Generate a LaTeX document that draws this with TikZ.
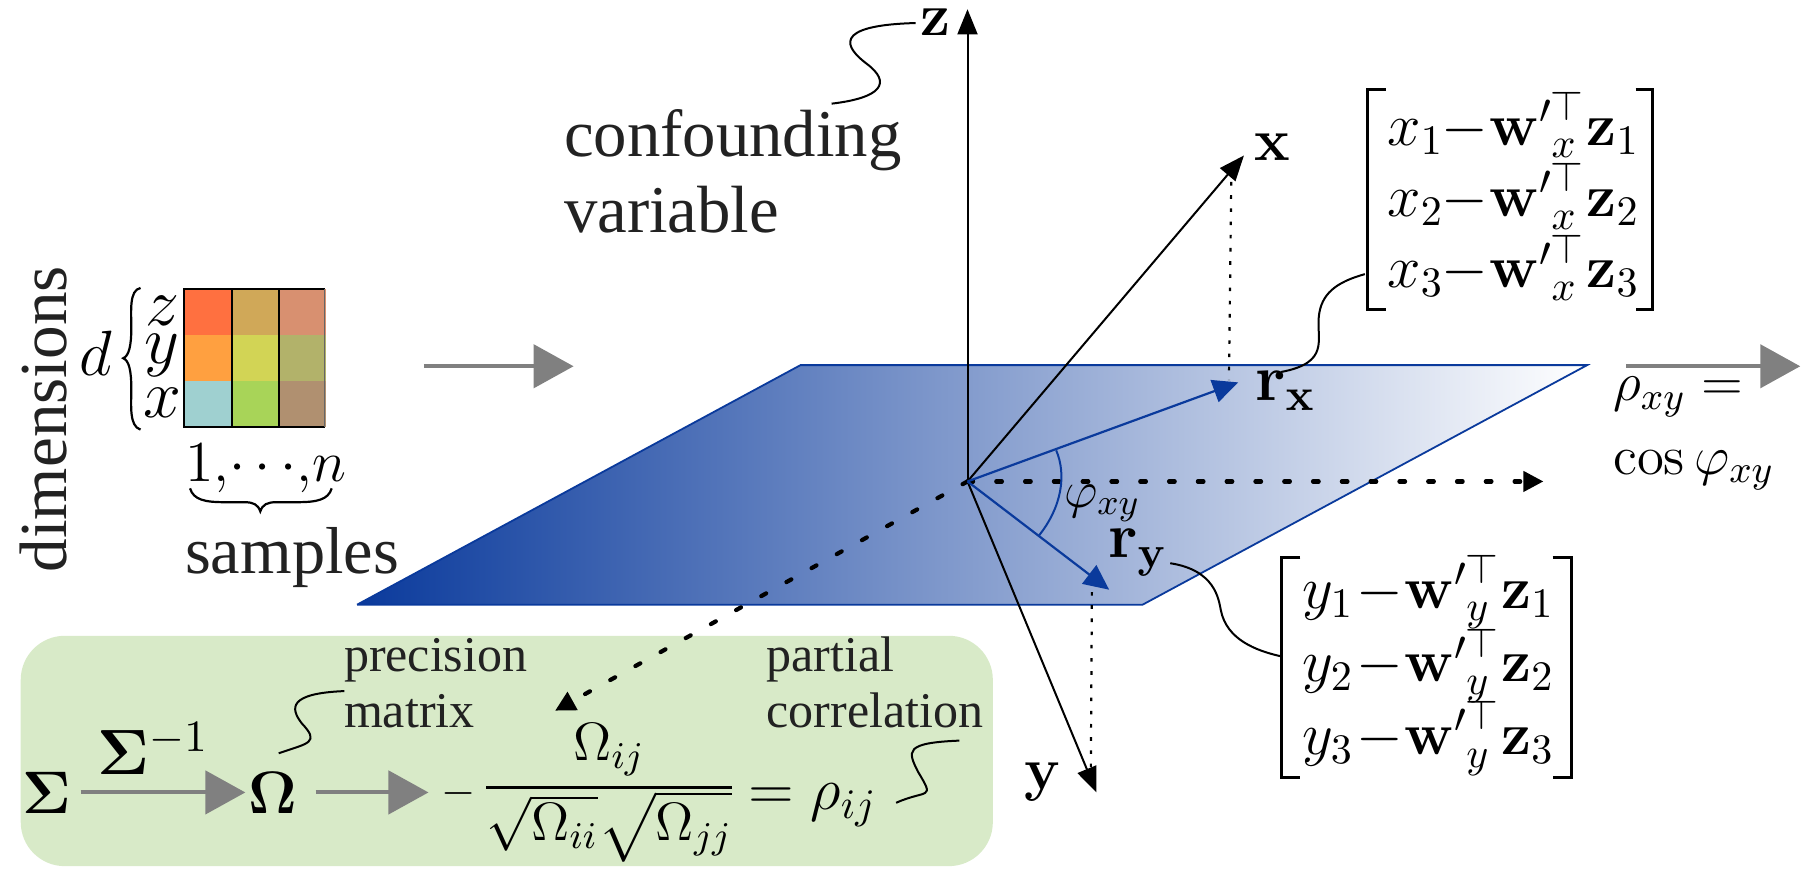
\documentclass[tikz,border=0pt]{standalone}
\usepackage{fix-cm}
\usepackage{amsmath}
\usepackage[no-math]{fontspec}
\newfontfamily\tmr{Liberation Serif}
\usetikzlibrary{arrows.meta}
\definecolor{planeblue}{HTML}{0A3A9C}
\definecolor{boxgreen}{HTML}{D8EAC8}
\definecolor{arrowgray}{HTML}{808080}
\definecolor{txt}{HTML}{222222}
% one matrix row: symbol, subscript letter, index
\newcommand{\mrow}[3]{\rlap{$#1_{#3}$}\rlap{\kern13.6pt$-$}\rlap{\kern25.6pt$\mathbf{w}'$}\rlap{\kern40.8pt\raisebox{6.2pt}{\fontsize{10.5}{12}\selectfont$\top$}}\rlap{\kern41pt\raisebox{-3.2pt}{$\scriptstyle #2$}}\rlap{\kern49.8pt$\mathbf{z}_{#3}$}\kern61pt}
\tikzset{
  lbl/.style={inner sep=0pt,text=txt,font=\fontsize{16.6}{19}\selectfont\tmr},
  lblsm/.style={inner sep=0pt,text=txt,anchor=base west,font=\fontsize{12.5}{14}\selectfont\tmr},
  mth/.style={inner sep=0pt,text=black,font=\fontsize{15}{18}\selectfont},
  mrowstyle/.style={inner sep=0pt,text=black,anchor=base west,font=\fontsize{15}{18}\selectfont},
  bold/.style={inner sep=0pt,text=black,font=\fontsize{15}{18}\selectfont},
  axisarrow/.style={-{Triangle[length=6.3pt,width=5pt]},line width=0.5pt,black},
  bluearrow/.style={-{Triangle[length=6.3pt,width=5.8pt]},line width=0.55pt,planeblue},
  dotaxis/.style={-{Triangle[length=5pt,width=5pt]},line width=1.05pt,black,line cap=round,dash pattern=on 1.4pt off 5.8pt},
  thindot/.style={line width=0.55pt,black,dash pattern=on 0.9pt off 2.4pt},
  grayarrow/.style={-{Triangle[length=10pt,width=10.8pt]},line width=1pt,arrowgray},
  wiggle/.style={line width=0.5pt,black},
  brk/.style={line width=0.75pt,black}
}
\begin{document}
\begin{tikzpicture}[x=0.288pt,y=-0.288pt]
\path[use as bounding box] (0,0) rectangle (1568,756);
% green panel
\path[fill=boxgreen,rounded corners=11pt] (18,552) rectangle (862,752);
% plane
\coordinate (pa) at (695,317);
\coordinate (pb) at (1378,317);
\coordinate (pc) at (992,525);
\coordinate (pd) at (310,525);
\path[left color=planeblue,right color=white] (pa) -- (pb) -- (pc) -- (pd) -- cycle;
\draw[planeblue,line width=0.45pt] (pd) -- (pa) -- (pb) -- (pc) -- (pd);
% origin and axes
\coordinate (O) at (840,418);
\node[bold] (zl) at (812,19) {$\mathbf{z}$};
\node[bold] (xl) at (1105,128) {$\mathbf{x}$};
\node[bold] (yl) at (905,679) {$\mathbf{y}$};
\coordinate (zt) at (840,8);
\coordinate (xt) at (1080,135);
\coordinate (yt) at (952,688);
\coordinate (dxe) at (1340,418);
\coordinate (dye) at (482,617);
\coordinate (rxt) at (1075,332);
\coordinate (ryt) at (963,512);
\coordinate (dx1) at (1069,158);
\coordinate (dx2) at (1067,330);
\coordinate (dy1) at (948,514);
\coordinate (dy2) at (947,682);
\draw[thindot] (dx1) -- (dx2);
\draw[thindot] (dy1) -- (dy2);
\draw[dotaxis] (O) -- (dxe);
\draw[dotaxis] (O) -- (dye);
\draw[axisarrow] (O) -- (zt);
\draw[axisarrow] (O) -- (xt);
\draw[axisarrow] (O) -- (yt);
\draw[bluearrow] (O) -- (rxt);
\draw[bluearrow] (O) -- (ryt);
\coordinate (a1) at (917,391);
\coordinate (a2) at (902,465);
\draw[planeblue,line width=0.5pt] (a1) .. controls (926,412) and (922,440) .. (a2);
\node[mth,font=\fontsize{13}{16}\selectfont] (phi) at (957,437) {$\varphi_{xy}$};
\node[mth,font=\fontsize{16.5}{20}\selectfont] (rx) at (1116,339) {$\mathbf{r}_{\mathbf{x}}$};
\node[mth,font=\fontsize{16}{20}\selectfont] (ry) at (988,480) {$\mathbf{r}_{\mathbf{y}}$};
% confounding variable
\node[lbl,anchor=west,font=\fontsize{16.7}{19}\selectfont\tmr] (conf) at (489,122) {confounding};
\node[lbl,anchor=west,font=\fontsize{16.7}{19}\selectfont\tmr] (vari) at (489,182) {variable};
\coordinate (zc1) at (795,20);
\coordinate (zc2) at (722,90);
\draw[wiggle] (zc1) .. controls (720,22) and (735,42) .. (752,55) .. controls (775,72) and (765,85) .. (zc2);
% x matrix
\node[mrowstyle] (m1) at (1204,126) {\mrow{x}{x}{1}};
\node[mrowstyle] (m2) at (1204,188) {\mrow{x}{x}{2}};
\node[mrowstyle] (m3) at (1204,250) {\mrow{x}{x}{3}};
\coordinate (bl1) at (1203,78); \coordinate (bl2) at (1187,78); \coordinate (bl3) at (1187,269); \coordinate (bl4) at (1203,269);
\coordinate (br1) at (1420,78); \coordinate (br2) at (1435,78); \coordinate (br3) at (1435,269); \coordinate (br4) at (1420,269);
\draw[brk] (bl1) -- (bl2) -- (bl3) -- (bl4);
\draw[brk] (br1) -- (br2) -- (br3) -- (br4);
\coordinate (xc1) at (1112,323);
\coordinate (xc2) at (1185,238);
\draw[wiggle] (xc1) .. controls (1155,315) and (1143,295) .. (1145,275) .. controls (1147,255) and (1160,245) .. (xc2);
% y matrix
\node[mrowstyle] (n1) at (1130,528) {\mrow{y}{y}{1}};
\node[mrowstyle] (n2) at (1130,592) {\mrow{y}{y}{2}};
\node[mrowstyle] (n3) at (1130,655) {\mrow{y}{y}{3}};
\coordinate (cl1) at (1129,484); \coordinate (cl2) at (1113,484); \coordinate (cl3) at (1113,675); \coordinate (cl4) at (1129,675);
\coordinate (cr1) at (1348,484); \coordinate (cr2) at (1364,484); \coordinate (cr3) at (1364,675); \coordinate (cr4) at (1348,675);
\draw[brk] (cl1) -- (cl2) -- (cl3) -- (cl4);
\draw[brk] (cr1) -- (cr2) -- (cr3) -- (cr4);
\coordinate (yc1) at (1016,489);
\coordinate (yc2) at (1113,570);
\draw[wiggle] (yc1) .. controls (1055,495) and (1058,520) .. (1060,530) .. controls (1065,555) and (1090,565) .. (yc2);
% right arrow and rho
\coordinate (g3a) at (1412,318);
\coordinate (g3b) at (1563,318);
\draw[grayarrow] (g3a) -- (g3b);
\node[mth,anchor=base west,font=\fontsize{13.7}{16}\selectfont] (rho) at (1400,348) {$\rho_{xy}=$};
\node[mth,anchor=base west,font=\fontsize{13.7}{16}\selectfont] (cosn) at (1400,412) {$\cos\varphi_{xy}$};
% data grid
\foreach \i/\xx/\yy/\c in {a/160/251/FF7040,b/201/251/D0A858,c/242/251/D89070,
 d/160/291/FFA040,e/201/291/D2D455,f/242/291/B2B26A,
 g/160/331/9FD0D0,h/201/331/A8D458,i/242/331/B09070}{
  \definecolor{cc}{HTML}{\c}
  \path[fill=cc] (\xx,\yy) rectangle ++(41,40);
}
\coordinate (ga) at (160,251);
\coordinate (gb) at (282,251);
\coordinate (gc) at (282,371);
\coordinate (gd) at (160,371);
\draw[black,line width=0.5pt] (gb) -- (ga) -- (gd) -- (gc);
\draw[black!60,line width=0.3pt] (gb) -- (gc);
\coordinate (v1t) at (201,251); \coordinate (v1b) at (201,371);
\coordinate (v2t) at (242,251); \coordinate (v2b) at (242,371);
\draw[black,line width=0.5pt] (v1t) -- (v1b);
\draw[black,line width=0.5pt] (v2t) -- (v2b);
\node[lbl,rotate=90,font=\fontsize{16.8}{19}\selectfont\tmr] (dims) at (38,364) {dimensions};
\node[mth,font=\fontsize{16}{19}\selectfont] (dd) at (83,307) {$d$};
\coordinate (bt) at (122,250);
\coordinate (bm) at (107,311);
\coordinate (bb) at (122,373);
\draw[line width=0.55pt] (bt) .. controls (112,252) and (114,270) .. (114,285) .. controls (114,300) and (112,309) .. (bm) .. controls (112,313) and (114,322) .. (114,337) .. controls (114,352) and (112,370) .. (bb);
\node[mth,font=\fontsize{17}{20}\selectfont] (lz) at (141,270) {$z$};
\node[mth,font=\fontsize{17}{20}\selectfont] (ly) at (141,309) {$y$};
\node[mth,font=\fontsize{17}{20}\selectfont] (lx) at (141,350) {$x$};
\node[mth,anchor=west,font=\fontsize{14.5}{18}\selectfont] (idx) at (160,407) {$1,\!\cdots\!,\!n$};
\coordinate (ub1) at (165,424);
\coordinate (ub2) at (226,444);
\coordinate (ub3) at (288,424);
\draw[line width=0.55pt] (ub1) .. controls (168,434) and (178,436) .. (195,436) -- (212,436) .. controls (220,436) and (224,438) .. (ub2) .. controls (228,438) and (232,436) .. (240,436) -- (258,436) .. controls (275,436) and (285,434) .. (ub3);
\node[lbl,anchor=west] (samp) at (160,484) {samples};
% first gray arrow
\coordinate (g0a) at (368,318);
\coordinate (g0b) at (498,318);
\draw[grayarrow] (g0a) -- (g0b);
% bottom panel
\node[bold] (sig) at (41,688) {$\mathbf{\Sigma}$};
\node[mth,font=\fontsize{16}{19}\selectfont] (siginv) at (133,650) {$\mathbf{\Sigma}^{-1}$};
\node[bold] (om) at (237,688) {$\mathbf{\Omega}$};
\coordinate (s1) at (70,688);
\coordinate (s2) at (213,688);
\draw[grayarrow] (s1) -- (s2);
\coordinate (g2a) at (274,688);
\coordinate (g2b) at (372,688);
\draw[grayarrow] (g2a) -- (g2b);
\node[mth,font=\fontsize{11}{13}\selectfont] (mns) at (398,689) {$-$};
\node[mth,font=\fontsize{13.5}{16}\selectfont] (frc) at (529,692) {$\genfrac{}{}{0.8pt}{0}{\raisebox{-1.5pt}[\height][\depth]{$\Omega_{ij}$}}{\raisebox{2pt}[\height][\depth]{$\sqrt{\Omega_{ii}}\sqrt{\Omega_{jj}}$}}$};
\node[mth,anchor=base west] (eqr) at (649,703) {$=\rho_{ij}$};
\node[lblsm] (pr) at (298,583) {precision};
\node[lblsm] (ma) at (298,632) {matrix};
\node[lblsm] (pa2) at (665,583) {partial};
\node[lblsm] (co) at (665,632) {correlation};
\coordinate (oc1) at (299,600);
\coordinate (oc2) at (242,654);
\draw[wiggle] (oc1) .. controls (250,602) and (252,615) .. (262,628) .. controls (278,645) and (268,645) .. (oc2);
\coordinate (rc1) at (833,643);
\coordinate (rc2) at (778,697);
\draw[wiggle] (rc1) .. controls (785,645) and (788,652) .. (797,670) .. controls (812,695) and (805,685) .. (rc2);
\end{tikzpicture}
\end{document}
